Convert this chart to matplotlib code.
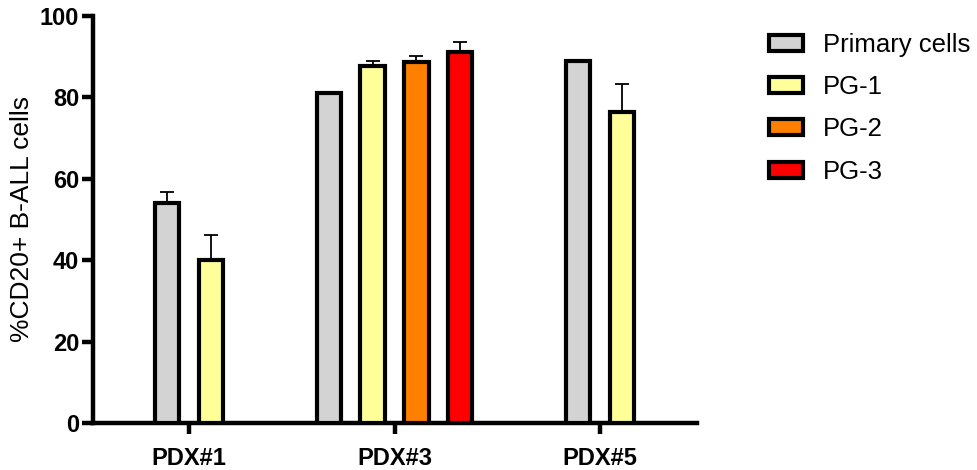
import matplotlib
matplotlib.use('Agg')
import matplotlib.pyplot as plt
import matplotlib.patches as mpatches
import numpy as np

plt.rcParams['font.family'] = ['Liberation Sans', 'DejaVu Sans']

groups = ['PDX#1', 'PDX#3', 'PDX#5']
labels = ['Primary cells', 'PG-1', 'PG-2', 'PG-3']
colors = ['#d3d3d3', '#ffff99', '#ff8000', '#ff0000']

# mean values per group (None = not measured)
primary = [54.0, 81.0, 89.0]
pg1 = [40.0, 87.7, 76.4]
pg2 = [None, 88.6, None]
pg3 = [None, 91.1, None]

# upper error (SD)
primary_err = [2.7, 0, 0]
pg1_err = [6.3, 1.3, 6.8]
pg2_err = [None, 1.6, None]
pg3_err = [None, 2.5, None]

series = [primary, pg1, pg2, pg3]
errs = [primary_err, pg1_err, pg2_err, pg3_err]

fig = plt.figure(figsize=(9.78, 4.70), dpi=100)
ax = fig.add_axes([0.0951, 0.0994, 0.6176, 0.8672])

width = 0.117
pitch = 0.214
for g in range(len(groups)):
    present = [i for i in range(len(series)) if series[i][g] is not None]
    n = len(present)
    for k, i in enumerate(present):
        x = g + (k - (n - 1) / 2) * pitch
        y = series[i][g]
        ax.bar(x, y, width=width, color=colors[i], edgecolor='black',
               linewidth=3, zorder=3)
        e = errs[i][g]
        if e:
            ax.errorbar(x, y, yerr=[[0], [e]], fmt='none', ecolor='black',
                        elinewidth=1.3, capsize=5, capthick=1.3, zorder=2)

ax.set_xlim(-0.467, 2.472)
ax.set_ylim(0, 100)
ax.set_yticks([0, 20, 40, 60, 80, 100])
ax.set_xticks(range(len(groups)))
ax.set_xticklabels(groups)
ax.set_ylabel('%CD20+ B-ALL cells', fontsize=19, labelpad=4)

for s in ['top', 'right']:
    ax.spines[s].set_visible(False)
for s in ['left', 'bottom']:
    ax.spines[s].set_linewidth(3.2)
ax.tick_params(axis='y', width=3.2, length=8, pad=2, labelsize=17)
ax.tick_params(axis='x', width=3.2, length=8, pad=9, labelsize=17)
for t in ax.get_xticklabels() + ax.get_yticklabels():
    t.set_fontweight('bold')

handles = [mpatches.Patch(facecolor=c, edgecolor='black', linewidth=3, label=l)
           for c, l in zip(colors, labels)]
fig.legend(handles=handles, loc='upper left', bbox_to_anchor=(0.786, 0.93),
           frameon=False, fontsize=18.5, handlelength=1.32, handleheight=0.58,
           handletextpad=0.78, labelspacing=0.71, borderaxespad=0, borderpad=0)

fig.savefig('out.png', dpi=100)
